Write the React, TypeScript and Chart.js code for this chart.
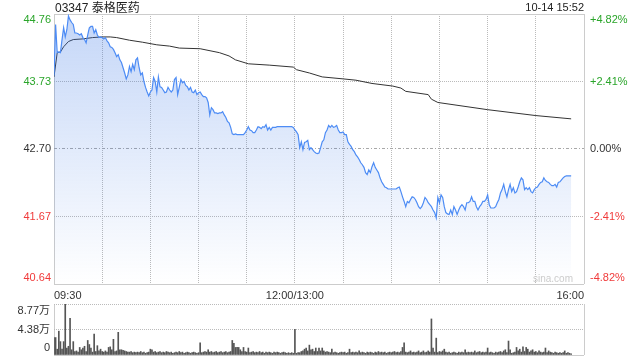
import React, { useEffect, useRef } from 'react';
import { Chart, registerables } from 'chart.js';

Chart.register(...registerables);

// ---------- data ----------
const stockTitle = '03347 泰格医药';
const stampText = '10-14 15:52';
const watermark = 'sina.com';

const preClose = 42.7;
const priceMin = 40.64;
const priceMax = 44.76;
const priceTicks = [40.64, 41.67, 42.7, 43.73, 44.76];
const priceTickLabels = ['40.64', '41.67', '42.70', '43.73', '44.76'];
const pctTickLabels = ['-4.82%', '-2.41%', '0.00%', '+2.41%', '+4.82%'];

// minutes since 09:30 on a 330-minute trading axis (lunch break collapsed)
const sessionMinutes = 330;
const timeGrid = [0, 30, 60, 90, 120, 150, 180, 210, 240, 270, 300, 330];
const timeTickMinutes = [0, 150, 330];
const timeTickLabels = ['09:30', '12:00/13:00', '16:00'];

// one price per minute, 09:30 .. 15:52
const prices = [
  43.82, 44.60, 44.17, 44.18, 44.17, 44.37, 44.55, 44.41, 44.52, 44.73, 44.67, 44.63, 44.60, 44.47, 44.47, 44.46, 44.44, 44.46, 44.40, 44.37, 44.32, 44.44, 44.55, 44.57, 44.57, 44.47, 44.52, 44.44, 44.40, 44.41,
  44.40, 44.38, 44.40, 44.35, 44.32, 44.26, 44.25, 44.22, 44.17, 44.11, 44.14, 44.06, 44.02, 43.94, 43.86, 43.77, 43.83, 43.96, 43.88, 43.99, 43.91, 44.06, 44.09, 43.94, 43.83, 43.86, 43.73, 43.64, 43.57, 43.51,
  43.57, 43.60, 43.79, 43.73, 43.57, 43.80, 43.65, 43.64, 43.60, 43.56, 43.57, 43.64, 43.60, 43.57, 43.60, 43.76, 43.79, 43.53, 43.64, 43.76, 43.71, 43.73, 43.67, 43.65, 43.60, 43.64, 43.57, 43.56, 43.60, 43.53,
  43.56, 43.57, 43.53, 43.50, 43.50, 43.48, 43.41, 43.22, 43.33, 43.30, 43.25, 43.25, 43.24, 43.25, 43.25, 43.27, 43.22, 43.18, 43.12, 43.10, 43.03, 42.93, 42.92, 42.93, 42.92, 42.92, 42.92, 42.92, 42.92, 42.95,
  42.99, 43.04, 42.99, 42.98, 42.95, 42.95, 42.99, 43.04, 43.03, 43.01, 43.04, 43.03, 43.07, 42.99, 43.03, 42.99, 43.03, 43.03, 43.03, 43.04, 43.04, 43.04, 43.04, 43.04, 43.04, 43.04, 43.04, 43.04, 43.04, 43.03,
  42.99, 42.96, 42.92, 42.72, 42.81, 42.69, 42.80, 42.81, 42.83, 42.69, 42.72, 42.69, 42.66, 42.64, 42.63, 42.64, 42.72, 42.81, 42.84, 42.95, 42.99, 43.06, 43.03, 43.06, 43.03, 43.04, 43.06, 42.99, 42.95, 42.95,
  42.96, 42.92, 42.92, 42.81, 42.77, 42.74, 42.69, 42.66, 42.61, 42.58, 42.54, 42.49, 42.46, 42.42, 42.34, 42.31, 42.38, 42.34, 42.43, 42.49, 42.42, 42.38, 42.34, 42.26, 42.20, 42.16, 42.12, 42.11, 42.09, 42.09,
  42.09, 42.09, 42.09, 42.09, 42.11, 42.12, 42.05, 41.97, 41.90, 41.82, 41.90, 41.88, 41.93, 41.97, 41.96, 41.93, 41.88, 41.82, 41.79, 41.82, 41.88, 41.96, 41.93, 41.88, 41.85, 41.82, 41.77, 41.73, 41.65, 41.96,
  41.88, 42.00, 41.96, 41.82, 41.73, 41.71, 41.70, 41.77, 41.70, 41.82, 41.77, 41.70, 41.77, 41.82, 41.85, 41.82, 41.77, 41.88, 41.88, 41.90, 41.97, 41.90, 41.90, 41.82, 41.77, 41.82, 41.85, 41.90, 41.90, 41.93,
  42.00, 41.85, 41.80, 41.80, 41.80, 41.82, 41.88, 41.93, 42.03, 42.08, 42.16, 42.05, 41.97, 42.08, 42.16, 42.05, 42.11, 42.03, 42.05, 42.12, 42.20, 42.26, 42.23, 42.08, 42.11, 42.08, 42.11, 42.05, 42.03, 42.08,
  42.11, 42.12, 42.16, 42.19, 42.20, 42.26, 42.22, 42.20, 42.19, 42.16, 42.14, 42.14, 42.16, 42.12, 42.19, 42.20, 42.23, 42.26, 42.28, 42.29, 42.29, 42.29, 42.29,
];

// average-price line, read at these minutes
const avgMinutes = [0, 2, 4, 6, 9, 12, 18, 24, 30, 35, 39, 47, 55, 64, 72, 78, 91, 103, 109, 113, 121, 134, 149, 151, 159, 167, 180, 188, 198, 211, 216, 219, 233, 235, 239, 270, 300, 322];
const avgPrices = [43.80, 44.17, 44.18, 44.26, 44.34, 44.37, 44.38, 44.40, 44.41, 44.41, 44.40, 44.36, 44.33, 44.29, 44.27, 44.24, 44.23, 44.17, 44.12, 44.06, 44.00, 43.98, 43.95, 43.91, 43.86, 43.80, 43.77, 43.75, 43.70, 43.66, 43.63, 43.58, 43.53, 43.46, 43.41, 43.30, 43.21, 43.16];

// volume per minute, in 万股
const volumes = [
  3.0, 3.0, 1.0, 4.1, 2.3, 1.0, 2.3, 8.77, 1.2, 1.5, 6.3, 0.9, 2.3, 0.6, 0.7, 0.5, 1.3, 0.9, 1.2, 1.5, 0.6, 2.5, 1.8, 1.2, 0.5, 3.6, 0.6, 1.6, 0.7, 1.0,
  0.6, 0.5, 0.7, 0.5, 1.3, 1.4, 0.9, 2.7, 0.6, 0.7, 3.9, 0.9, 0.9, 0.8, 0.7, 0.6, 0.5, 0.5, 0.6, 0.4, 0.5, 0.4, 0.5, 0.4, 0.6, 0.4, 0.5, 0.3, 0.4, 0.5,
  1.0, 0.9, 0.5, 0.6, 0.4, 0.5, 0.6, 0.4, 0.5, 0.4, 0.6, 0.5, 0.4, 0.5, 0.3, 0.4, 0.5, 0.4, 0.6, 0.4, 0.5, 0.3, 0.4, 0.5, 0.4, 0.3, 0.4, 0.5, 0.4, 0.3,
  0.4, 2.1, 0.4, 0.5, 0.6, 0.5, 0.9, 0.5, 0.6, 0.4, 0.5, 0.6, 0.4, 0.5, 0.6, 0.4, 0.5, 0.6, 0.4, 0.5, 0.6, 2.5, 2.0, 1.3, 1.3, 1.3, 0.9, 0.6, 1.3, 0.6,
  0.5, 1.2, 0.4, 0.5, 0.6, 0.4, 0.5, 0.4, 0.6, 0.4, 0.5, 0.3, 0.5, 0.4, 0.5, 0.4, 0.3, 0.5, 0.4, 0.5, 0.4, 0.3, 0.4, 0.5, 0.4, 0.3, 0.4, 0.3, 0.4, 0.3,
  4.4, 0.3, 0.4, 0.4, 0.6, 0.7, 1.0, 1.2, 0.7, 1.7, 0.9, 1.0, 0.6, 1.2, 0.6, 1.2, 0.7, 1.2, 0.7, 0.5, 0.6, 0.5, 0.4, 1.0, 0.4, 0.5, 0.4, 0.3, 0.4, 0.5,
  0.4, 0.5, 0.3, 0.4, 1.0, 0.4, 0.5, 0.4, 0.5, 0.4, 0.7, 0.4, 0.5, 0.4, 0.3, 0.5, 0.4, 0.5, 0.4, 0.3, 0.5, 0.4, 0.6, 0.4, 0.5, 0.4, 0.5, 0.3, 0.4, 0.5,
  0.4, 0.5, 0.6, 0.4, 0.5, 0.4, 0.6, 1.3, 2.1, 0.5, 0.4, 0.5, 0.7, 0.4, 0.5, 0.4, 0.5, 0.7, 0.4, 0.5, 0.7, 0.4, 0.5, 0.7, 0.5, 6.2, 1.2, 0.5, 2.9, 0.4,
  0.6, 0.5, 0.7, 1.0, 0.5, 0.4, 0.5, 0.3, 0.4, 0.5, 0.4, 0.3, 0.5, 0.4, 0.5, 0.4, 0.9, 0.4, 0.5, 0.4, 0.5, 0.4, 0.7, 0.4, 0.5, 0.6, 0.4, 0.5, 0.4, 0.5,
  1.2, 0.4, 0.5, 0.4, 0.3, 0.5, 0.4, 0.5, 0.6, 0.4, 0.7, 0.9, 0.4, 2.4, 0.9, 0.3, 0.4, 0.5, 1.3, 0.7, 1.0, 0.5, 1.4, 0.6, 1.3, 1.0, 0.5, 0.7, 0.9, 0.5,
  0.6, 0.4, 0.7, 0.5, 0.4, 0.5, 1.2, 0.4, 0.7, 0.5, 0.4, 0.3, 0.5, 0.4, 0.3, 0.4, 0.3, 0.4, 0.7, 0.3, 0.4, 0.3, 0.2,
];
const volMax = 8.77;
const volTicks = [0, 4.38, 8.77];
const volTickLabels = ['0', '4.38万', '8.77万'];

// ---------- styles ----------
const FONT = '"Liberation Sans", Arial, Helvetica, "Noto Sans CJK SC", sans-serif';
const BOX = '#cccccc';
const DOT = '#bbbbbb';
const DOTS = [1, 1];
const UP = '#2aa52a';
const DOWN = '#f03a3a';
const FLAT = '#333333';
const LINE = '#4d8cf5';

// put a label half a line below/above its tick when it sits on the top/bottom edge
function edgeLabel(label: string, index: number, count: number): string | string[] {
  if (index === 0) return [label, ''];
  if (index === count - 1) return ['', label];
  return label;
}

function fixWidth(width: number) {
  return (s: any) => {
    s.width = width;
    s.paddingTop = 0;
    s.paddingBottom = 0;
  };
}

export default function App() {
  const mainRef = useRef<HTMLCanvasElement>(null);
  const volRef = useRef<HTMLCanvasElement>(null);

  useEffect(() => {
    const priceColor = (v: number) => (Math.abs(v - preClose) < 1e-6 ? FLAT : v > preClose ? UP : DOWN);

    const main = new Chart(mainRef.current as HTMLCanvasElement, {
      type: 'line',
      data: {
        datasets: [
          {
            data: prices.map((p, i) => ({ x: i, y: p })),
            borderColor: LINE,
            borderWidth: 1.2,
            pointRadius: 0,
            tension: 0,
            fill: 'start',
            backgroundColor: (c: any) => {
              const { ctx, chartArea } = c.chart;
              if (!chartArea) return 'rgba(0,0,0,0)';
              const g = ctx.createLinearGradient(0, chartArea.top, 0, chartArea.bottom);
              g.addColorStop(0, 'rgba(60,120,230,0.30)');
              g.addColorStop(1, 'rgba(60,120,230,0)');
              return g;
            },
          },
          {
            data: avgMinutes.map((m, i) => ({ x: m, y: avgPrices[i] })),
            borderColor: '#333333',
            borderWidth: 1,
            pointRadius: 0,
            tension: 0,
            fill: false,
          },
        ],
      },
      options: {
        animation: false,
        responsive: false,
        devicePixelRatio: 1,
        layout: { padding: { top: 14, left: 0, right: 0, bottom: 0 } },
        plugins: { legend: { display: false }, tooltip: { enabled: false } },
        scales: {
          x: {
            type: 'linear',
            min: 0,
            max: sessionMinutes,
            offset: false,
            afterBuildTicks: (s: any) => {
              s.ticks = timeGrid.map((v) => ({ value: v }));
            },
            afterFit: (s: any) => {
              s.height = 16;
              s.paddingLeft = 0;
              s.paddingRight = 0;
            },
            grid: {
              color: (c: any) => (c.index === 0 || c.index === timeGrid.length - 1 ? BOX : DOT),
              lineWidth: 1,
              drawTicks: false,
              offset: false,
            },
            border: {
              display: false,
              dash: (c: any) => (c.index === 0 || c.index === timeGrid.length - 1 ? [] : DOTS),
            },
            ticks: {
              autoSkip: false,
              maxRotation: 0,
              align: 'inner',
              padding: 5,
              color: '#333333',
              font: { family: FONT, size: 11 },
              callback: (v: any) => {
                const i = timeTickMinutes.indexOf(Number(v));
                return i >= 0 ? timeTickLabels[i] : '';
              },
            },
          },
          y: {
            position: 'left',
            min: priceMin,
            max: priceMax,
            afterBuildTicks: (s: any) => {
              s.ticks = priceTicks.map((v) => ({ value: v }));
            },
            afterFit: fixWidth(54),
            grid: {
              drawTicks: false,
              lineWidth: 1,
              color: (c: any) =>
                c.index === 2 ? '#a8a8a8' : c.index === 0 || c.index === priceTicks.length - 1 ? BOX : DOT,
            },
            border: {
              display: false,
              dash: (c: any) =>
                c.index === 0 || c.index === priceTicks.length - 1 ? [] : c.index === 2 ? [3, 2, 1, 2] : DOTS,
            },
            ticks: {
              autoSkip: false,
              padding: 3,
              color: (c: any) => priceColor(c.tick.value),
              font: { family: FONT, size: 11, lineHeight: '12px' },
              callback: (_v: any, i: number) => edgeLabel(priceTickLabels[i], i, priceTicks.length),
            },
          },
          y2: {
            position: 'right',
            min: priceMin,
            max: priceMax,
            afterBuildTicks: (s: any) => {
              s.ticks = priceTicks.map((v) => ({ value: v }));
            },
            afterFit: fixWidth(56),
            grid: { display: false, drawTicks: false },
            border: { display: false },
            ticks: {
              autoSkip: false,
              padding: 6,
              color: (c: any) => priceColor(c.tick.value),
              font: { family: FONT, size: 11, lineHeight: '12px' },
              callback: (_v: any, i: number) => edgeLabel(pctTickLabels[i], i, priceTicks.length),
            },
          },
        },
      },
    } as any);

    const vol = new Chart(volRef.current as HTMLCanvasElement, {
      type: 'bar',
      data: {
        datasets: [
          {
            data: volumes.map((v, i) => ({ x: i, y: v })),
            backgroundColor: '#555555',
            borderWidth: 0,
            barThickness: 1,
          },
        ],
      },
      options: {
        animation: false,
        responsive: false,
        devicePixelRatio: 1,
        layout: { padding: { top: 4, left: 0, right: 56, bottom: 5 } },
        plugins: { legend: { display: false }, tooltip: { enabled: false } },
        scales: {
          x: {
            type: 'linear',
            min: 0,
            max: sessionMinutes,
            offset: false,
            afterBuildTicks: (s: any) => {
              s.ticks = [0, sessionMinutes].map((v) => ({ value: v }));
            },
            afterFit: (s: any) => {
              s.height = 0;
              s.paddingLeft = 0;
              s.paddingRight = 0;
            },
            grid: { color: BOX, drawTicks: false, lineWidth: 1, offset: false },
            border: { display: false },
            ticks: { display: false },
          },
          y: {
            min: 0,
            max: volMax,
            afterBuildTicks: (s: any) => {
              s.ticks = volTicks.map((v) => ({ value: v }));
            },
            afterFit: fixWidth(54),
            grid: { color: (c: any) => (c.index === 0 ? BOX : DOT), drawTicks: false, lineWidth: 1 },
            border: { display: false, dash: (c: any) => (c.index === 0 ? [] : DOTS) },
            ticks: {
              autoSkip: false,
              padding: 4,
              color: '#333333',
              font: { family: FONT, size: 11, lineHeight: '14px' },
              callback: (_v: any, i: number) => edgeLabel(volTickLabels[i], i, volTicks.length),
            },
          },
        },
      },
    } as any);

    return () => {
      main.destroy();
      vol.destroy();
    };
  }, []);

  return (
    <div
      style={{
        position: 'absolute',
        left: 0,
        top: 0,
        width: 640,
        height: 360,
        background: '#ffffff',
        overflow: 'hidden',
      }}
    >
      <canvas
        ref={mainRef}
        width={640}
        height={300}
        style={{ position: 'absolute', left: 0, top: 0, width: 640, height: 300 }}
      />
      <canvas
        ref={volRef}
        width={640}
        height={60}
        style={{ position: 'absolute', left: 0, top: 300, width: 640, height: 60 }}
      />
      <div
        style={{
          position: 'absolute',
          left: 55,
          top: 1,
          fontFamily: FONT,
          fontSize: 12,
          lineHeight: '14px',
          color: '#222222',
          whiteSpace: 'nowrap',
        }}
      >
        {stockTitle}
      </div>
      <div
        style={{
          position: 'absolute',
          right: 56,
          top: 1,
          fontFamily: FONT,
          fontSize: 11,
          lineHeight: '13px',
          color: '#222222',
          whiteSpace: 'nowrap',
          textAlign: 'right',
        }}
      >
        {stampText}
      </div>
      <div
        style={{
          position: 'absolute',
          right: 67,
          top: 273,
          fontFamily: FONT,
          fontSize: 10,
          lineHeight: '12px',
          color: '#cccccc',
          whiteSpace: 'nowrap',
        }}
      >
        {watermark}
      </div>
    </div>
  );
}
